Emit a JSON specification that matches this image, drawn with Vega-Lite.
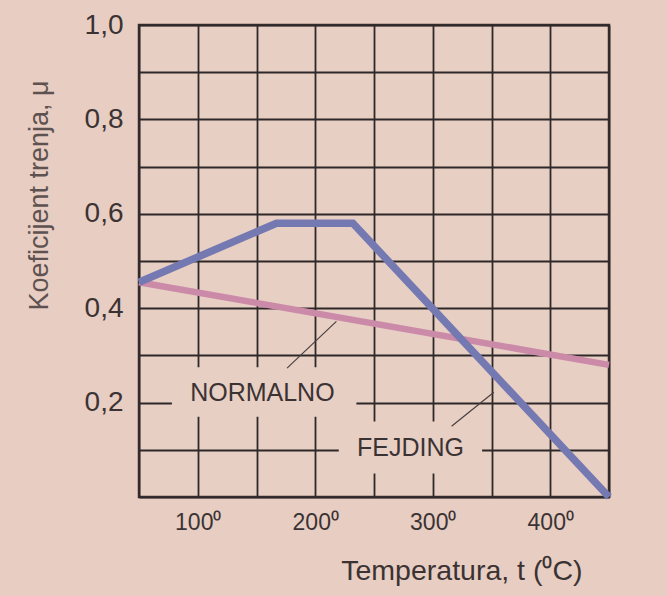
{
  "$schema": "https://vega.github.io/schema/vega-lite/v6.json",
  "autosize": {"type": "none"},
  "padding": {"left": 139, "top": 25, "right": 58, "bottom": 99},
  "width": 470,
  "height": 472,
  "background": "#e7cdc2",
  "config": {
    "view": {"stroke": "#3a3030", "strokeWidth": 2.5, "fill": "#e8cfc4"},
    "font": "Liberation Sans"
  },
  "datasets": {
    "curves": [
      {"series": "Fejding", "x": 50, "y": 0.455},
      {"series": "Fejding", "x": 167, "y": 0.58},
      {"series": "Fejding", "x": 232, "y": 0.58},
      {"series": "Fejding", "x": 450, "y": 0},
      {"series": "Normalno", "x": 50, "y": 0.455},
      {"series": "Normalno", "x": 450, "y": 0.28}
    ],
    "boxes": [
      {"x": 78, "x2": 235, "y": 0.17, "y2": 0.275},
      {"x": 220, "x2": 342, "y": 0.05, "y2": 0.16}
    ],
    "leaders": [
      {"x": 176, "y": 0.273, "x2": 218, "y2": 0.372},
      {"x": 316, "y": 0.15, "x2": 352, "y2": 0.222}
    ],
    "labels": [
      {"x": 155, "y": 0.22, "text": "NORMALNO"},
      {"x": 281, "y": 0.104, "text": "FEJDING"}
    ]
  },
  "encoding": {
    "x": {
      "field": "x",
      "type": "quantitative",
      "scale": {"domain": [50, 450], "nice": false, "zero": false},
      "axis": {
        "values": [50, 100, 150, 200, 250, 300, 350, 400, 450],
        "grid": true,
        "gridColor": "#2f2828",
        "gridWidth": 1.8,
        "gridOpacity": 1,
        "domain": false,
        "ticks": false,
        "tickSize": 0,
        "labelExpr": "datum.value % 100 === 0 ? datum.value + '⁰' : ''",
        "labelFontSize": 23,
        "labelColor": "#3b3333",
        "labelPadding": 14,
        "labelBaseline": "top",
        "labelFlush": false,
        "labelOverlap": false,
        "title": "Temperatura, t (⁰C)",
        "titleFontSize": 28.5,
        "titleFontWeight": "normal",
        "titleColor": "#3b3333",
        "titleAnchor": null,
        "titleAlign": "right",
        "titleX": 443,
        "titleY": 82,
        "titleBaseline": "alphabetic"
      }
    },
    "y": {
      "field": "y",
      "type": "quantitative",
      "scale": {"domain": [0, 1], "nice": false},
      "axis": {
        "values": [0, 0.1, 0.2, 0.3, 0.4, 0.5, 0.6, 0.7, 0.8, 0.9, 1.0],
        "grid": true,
        "gridColor": "#2f2828",
        "gridWidth": 1.8,
        "gridOpacity": 1,
        "domain": false,
        "ticks": false,
        "tickSize": 0,
        "labelExpr": "datum.value > 0.05 && round(datum.value * 10) % 2 === 0 ? replace(format(datum.value, '.1f'), '.', ',') : ''",
        "labelFontSize": 28,
        "labelColor": "#3b3333",
        "labelPadding": 16,
        "labelOverlap": false,
        "title": "Koeficijent trenja, μ",
        "titleFontSize": 27,
        "titleFontWeight": "normal",
        "titleColor": "#5e5250",
        "titleAnchor": null,
        "titleAngle": -90,
        "titleAlign": "center",
        "titleBaseline": "middle",
        "titleX": -100,
        "titleY": 170
      }
    }
  },
  "layer": [
    {
      "data": {"name": "boxes"},
      "mark": {"type": "rect", "fill": "#e8cfc4", "stroke": null},
      "encoding": {"x2": {"field": "x2"}, "y2": {"field": "y2"}}
    },
    {
      "data": {"name": "leaders"},
      "mark": {"type": "rule", "stroke": "#4a4040", "strokeWidth": 1.2},
      "encoding": {"x2": {"field": "x2"}, "y2": {"field": "y2"}}
    },
    {
      "data": {"name": "curves"},
      "transform": [{"filter": "datum.series === 'Normalno'"}],
      "mark": {"type": "line", "strokeWidth": 6.5},
      "encoding": {
        "color": {"field": "series", "type": "nominal", "scale": {"domain": ["Fejding", "Normalno"], "range": ["#7579b2", "#cc8aa9"]}, "legend": null}
      }
    },
    {
      "data": {"name": "curves"},
      "transform": [{"filter": "datum.series === 'Fejding'"}],
      "mark": {"type": "line", "strokeWidth": 7.5},
      "encoding": {
        "color": {"field": "series", "type": "nominal", "scale": {"domain": ["Fejding", "Normalno"], "range": ["#7579b2", "#cc8aa9"]}, "legend": null}
      }
    },
    {
      "data": {"name": "labels"},
      "mark": {"type": "text", "fontSize": 25, "color": "#3b3333", "align": "center", "baseline": "middle"},
      "encoding": {"text": {"field": "text", "type": "nominal"}}
    }
  ]
}
